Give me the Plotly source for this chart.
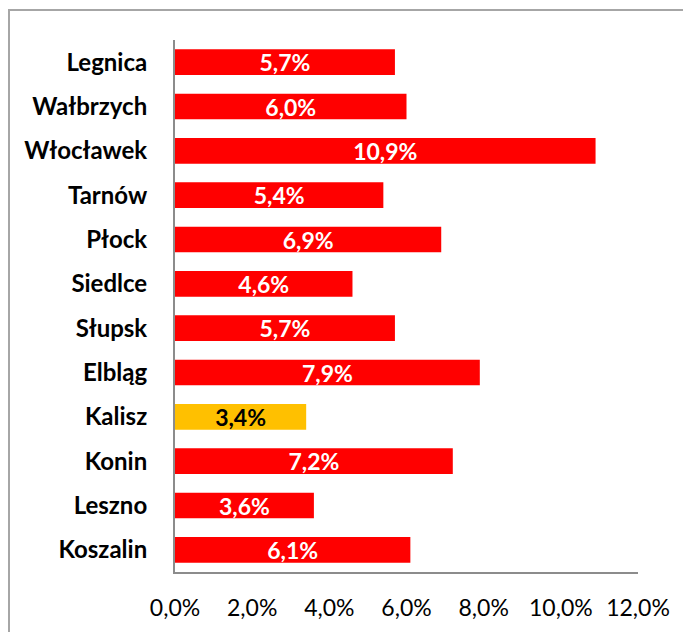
import plotly.graph_objects as go

cities = ["Legnica", "Wałbrzych", "Włocławek", "Tarnów", "Płock", "Siedlce",
          "Słupsk", "Elbląg", "Kalisz", "Konin", "Leszno", "Koszalin"]
values = [5.7, 6.0, 10.9, 5.4, 6.9, 4.6, 5.7, 7.9, 3.4, 7.2, 3.6, 6.1]
highlight = "Kalisz"
x_ticks = [0, 2, 4, 6, 8, 10, 12]
x_tick_labels = ["0,0%", "2,0%", "4,0%", "6,0%", "8,0%", "10,0%", "12,0%"]

RED = "#FF0000"
GOLD = "#FFC000"
colors = [GOLD if c == highlight else RED for c in cities]
text_colors = ["#000000" if c == highlight else "#FFFFFF" for c in cities]
labels = [f"{v:.1f}".replace(".", ",") + "%" for v in values]

FONT = "Lato"
FS = 23

W, H = 683, 624
L, R, T, B = 167, 53, 32, 60
PW, PH = W - L - R, H - T - B

fig = go.Figure(go.Bar(
    y=cities, x=values, orientation="h",
    marker=dict(color=colors, line=dict(width=0)),
    text=labels, textposition="inside", insidetextanchor="middle",
    constraintext="none",
    textfont=dict(family=FONT, size=FS, color=text_colors, weight="bold"),
    textangle=0, cliponaxis=False, hoverinfo="skip",
))

fig.update_layout(
    width=W, height=H,
    margin=dict(l=L, r=R, t=T, b=B, autoexpand=False),
    paper_bgcolor="white", plot_bgcolor="white",
    bargap=0.42, showlegend=False,
    font=dict(family=FONT, color="#000000"),
    xaxis=dict(range=[0, 12], tickvals=x_ticks, ticktext=x_tick_labels,
               showgrid=False, zeroline=False, showline=True,
               linecolor="#8C8C8C", linewidth=2, ticks="",
               tickfont=dict(family=FONT, size=FS, color="#000000"),
               ticklabelstandoff=14, automargin=False, fixedrange=True),
    yaxis=dict(autorange="reversed", showgrid=False, zeroline=False,
               showline=True, linecolor="#8C8C8C", linewidth=2, ticks="",
               tickfont=dict(family=FONT, size=24, color="#000000", weight="bold"),
               ticklabelstandoff=21, automargin=False, fixedrange=True),
    shapes=[dict(type="rect", xref="paper", yref="paper",
                 x0=(1 - L) / PW, x1=(W + 20 - L) / PW,
                 y0=-(B + 20) / PH, y1=1 + (T - 2) / PH,
                 line=dict(color="#A6A6A6", width=2), fillcolor="rgba(0,0,0,0)",
                 layer="below")],
)

fig.write_html("out.html")
